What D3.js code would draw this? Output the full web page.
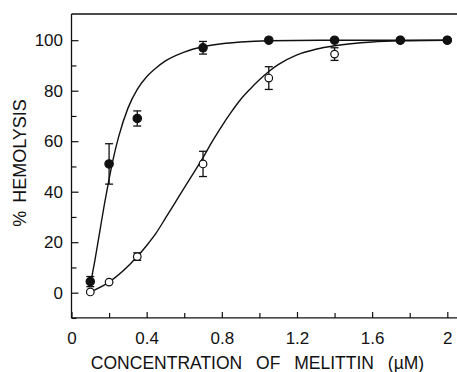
<!DOCTYPE html>
<html>
<head>
<meta charset="utf-8">
<script src="https://cdn.jsdelivr.net/npm/d3@7"></script>
<style>
  body { margin: 0; background: #fff; }
  svg text { font-family: "Liberation Sans", Arial, sans-serif; fill: #111; }
</style>
</head>
<body>
<figure id="chart" style="margin:0"></figure>
<script>
// measured points (concentration in uM, % hemolysis)
const concFilled = [0.1, 0.2, 0.35, 0.7, 1.05, 1.4, 1.75, 2.0];
const hemoFilled = [4.4, 51, 69, 97, 100, 100, 100, 100];
const errFilled  = [2, 8, 3, 2.5, 0, 0, 0, 0];

const concOpen = [0.1, 0.2, 0.35, 0.7, 1.05, 1.4, 1.75, 2.0];
const hemoOpen = [0.3, 4.2, 14.3, 51, 85, 94.5, 100, 100];
const errOpen  = [0, 0, 1.5, 5, 4.5, 2.5, 0, 0];

// fitted curves
const fitFilledX = [0.1, 0.125, 0.15, 0.175, 0.2, 0.225, 0.25, 0.3, 0.35, 0.4, 0.45, 0.5, 0.6, 0.7, 0.8, 0.9, 1.05, 1.4, 2.0];
const fitFilledY = [3, 13, 24, 35, 45, 54, 61.5, 73, 80.5, 85.5, 89, 91.8, 95.3, 97.4, 98.6, 99.3, 99.8, 100, 100];
const fitOpenX = [0.1, 0.2, 0.35, 0.4, 0.45, 0.5, 0.55, 0.6, 0.65, 0.7, 0.75, 0.8, 0.85, 0.9, 0.95, 1.0, 1.05, 1.1, 1.2, 1.3, 1.4, 1.6, 1.8, 2.0];
const fitOpenY = [0.3, 4.2, 14.3, 18.7, 23.6, 29.5, 35.5, 41.5, 47.5, 53.5, 60, 66, 71.5, 76.5, 80.6, 84.3, 87.6, 90.3, 94.2, 96.4, 97.8, 99.3, 99.8, 100];

const xTicks = [0, 0.4, 0.8, 1.2, 1.6, 2];
const xMinor = [0.2, 0.6, 1.0, 1.4, 1.8];
const yTicks = [0, 20, 40, 60, 80, 100];
const yMinor = [-10, 10, 30, 50, 70, 90];

const width = 457, height = 372;
const svg = d3.select('#chart').append('svg')
  .attr('width', width).attr('height', height);

const x = d3.scaleLinear().domain([0, 2]).range([71.5, 447.3]);
const y = d3.scaleLinear().domain([0, 100]).range([292.7, 40.2]);
const frameLeft = x(0), frameBottom = y(-10), frameTop = 14, frameRight = width;

// frame: top and bottom lines run off the right edge
svg.append('line').attr('x1', frameLeft).attr('x2', frameRight).attr('y1', frameTop).attr('y2', frameTop)
  .attr('stroke', '#111').attr('stroke-width', 1.3);
svg.append('line').attr('x1', frameLeft).attr('x2', frameRight).attr('y1', frameBottom).attr('y2', frameBottom)
  .attr('stroke', '#111').attr('stroke-width', 1.3);
svg.append('line').attr('x1', frameLeft).attr('x2', frameLeft).attr('y1', frameTop).attr('y2', frameBottom)
  .attr('stroke', '#111').attr('stroke-width', 1.3);

// x axis
svg.append('g')
  .attr('transform', 'translate(0,' + frameBottom + ')')
  .call(d3.axisBottom(x).tickValues(xTicks).tickSize(-6).tickPadding(14)
    .tickFormat(d => d3.format('~g')(d)))
  .call(g => g.select('.domain').remove())
  .call(g => g.selectAll('.tick line').attr('stroke', '#111').attr('stroke-width', 1.2))
  .call(g => g.selectAll('.tick text').style('font-size', '17px').attr('fill', '#111'));
svg.append('g')
  .attr('transform', 'translate(0,' + frameBottom + ')')
  .call(d3.axisBottom(x).tickValues(xMinor).tickSize(-5).tickFormat(''))
  .call(g => g.select('.domain').remove())
  .call(g => g.selectAll('.tick line').attr('stroke', '#111').attr('stroke-width', 1.2));

// y axis
svg.append('g')
  .attr('transform', 'translate(' + frameLeft + ',0)')
  .call(d3.axisLeft(y).tickValues(yTicks).tickSize(-7).tickPadding(8.5))
  .call(g => g.select('.domain').remove())
  .call(g => g.selectAll('.tick line').attr('stroke', '#111').attr('stroke-width', 1.2))
  .call(g => g.selectAll('.tick text').style('font-size', '17px').attr('fill', '#111'));
svg.append('g')
  .attr('transform', 'translate(' + frameLeft + ',0)')
  .call(d3.axisLeft(y).tickValues(yMinor).tickSize(-5).tickFormat(''))
  .call(g => g.select('.domain').remove())
  .call(g => g.selectAll('.tick line').attr('stroke', '#111').attr('stroke-width', 1.2));

// axis titles
svg.append('text')
  .attr('x', 257.5).attr('y', 369)
  .attr('text-anchor', 'middle')
  .style('font-size', '17.5px')
  .style('word-spacing', '9px')
  .text('CONCENTRATION OF MELITTIN (\u00b5M)');

svg.append('text')
  .attr('transform', 'translate(26,163) rotate(-90)')
  .attr('text-anchor', 'middle')
  .style('font-size', '18px')
  .style('word-spacing', '3px')
  .text('% HEMOLYSIS');

// fitted curves
const line = d3.line()
  .x(d => x(d[0]))
  .y(d => y(d[1]))
  .curve(d3.curveMonotoneX);

const curves = [d3.zip(fitFilledX, fitFilledY), d3.zip(fitOpenX, fitOpenY)];
svg.selectAll('.fit')
  .data(curves)
  .join('path')
  .attr('class', 'fit')
  .attr('d', d => line(d))
  .attr('fill', 'none')
  .attr('stroke', '#111')
  .attr('stroke-width', 1.4);

// error bars + markers
function drawSeries(cls, xs, ys, es, filled, r) {
  const pts = xs.map((c, i) => ({c: c, v: ys[i], e: es[i]}));
  const g = svg.append('g').attr('class', cls);
  const eb = g.selectAll('.err').data(pts.filter(d => d.e > 0)).join('g').attr('class', 'err')
    .attr('stroke', '#111').attr('stroke-width', 1.3);
  eb.append('line')
    .attr('x1', d => x(d.c)).attr('x2', d => x(d.c))
    .attr('y1', d => y(d.v + d.e)).attr('y2', d => y(d.v - d.e));
  eb.append('line')
    .attr('x1', d => x(d.c) - 4).attr('x2', d => x(d.c) + 4)
    .attr('y1', d => y(d.v + d.e)).attr('y2', d => y(d.v + d.e));
  eb.append('line')
    .attr('x1', d => x(d.c) - 4).attr('x2', d => x(d.c) + 4)
    .attr('y1', d => y(d.v - d.e)).attr('y2', d => y(d.v - d.e));
  g.selectAll('circle').data(pts).join('circle')
    .attr('cx', d => x(d.c)).attr('cy', d => y(d.v)).attr('r', r)
    .attr('fill', filled ? '#111' : '#fff')
    .attr('stroke', '#111').attr('stroke-width', 1.2);
}

drawSeries('open', concOpen, hemoOpen, errOpen, false, 3.8);
drawSeries('filled', concFilled, hemoFilled, errFilled, true, 4.2);
</script>
</body>
</html>
